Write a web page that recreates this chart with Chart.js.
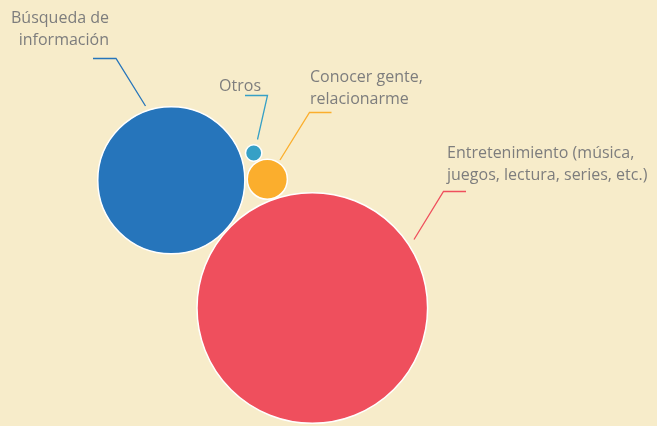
<!DOCTYPE html>
<html>
<head>
<meta charset="utf-8">
<script src="https://cdn.jsdelivr.net/npm/chart.js@4.4.0/dist/chart.umd.min.js"></script>
<style>
  html, body { margin: 0; padding: 0; background: #f7ecca; }
  #wrap { width: 657px; height: 426px; position: relative; }
</style>
</head>
<body>
<div id="wrap"><canvas id="chart"></canvas></div>
<script>
// share of answers (%), bubble area is proportional to it
const categories = ['Búsqueda de información', 'Otros', 'Conocer gente, relacionarme', 'Entretenimiento (música, juegos, lectura, series, etc.)'];
const values = [28.2, 0.35, 2.1, 69.3];
const colors = ['#2675bb', '#36a0c6', '#fbae2d', '#ef4f5d'];
// packed layout of the bubbles (hidden axes, 0..657 x 0..426)
const posX = [171.3, 253.7, 267.3, 312.3];
const posY = [180.3, 153, 179.2, 308];

const radiusScale = 13.85;

// callout text + leader lines
const callouts = [
  { lines: ['Búsqueda de', 'información'], align: 'right', x: 109, y: 23, color: '#2675bb', path: [[93, 58.5], [116, 58.5], [145.5, 106]] },
  { lines: ['Otros'], align: 'right', x: 261, y: 91, color: '#36a0c6', path: [[245, 95.5], [267.5, 95.5], [257.5, 139.5]] },
  { lines: ['Conocer gente,', 'relacionarme'], align: 'left', x: 310, y: 82, color: '#fbae2d', path: [[331.5, 112.5], [309.5, 112.5], [280, 160]] },
  { lines: ['Entretenimiento (música,', 'juegos, lectura, series, etc.)'], align: 'left', x: 447, y: 158, color: '#ef4f5d', path: [[466, 191.5], [443.5, 191.5], [414, 239.5]] }
];

const calloutPlugin = {
  id: 'callouts',
  afterDatasetsDraw(chart) {
    const ctx = chart.ctx;
    ctx.save();
    callouts.forEach(c => {
      ctx.beginPath();
      c.path.forEach((p, i) => i ? ctx.lineTo(p[0], p[1]) : ctx.moveTo(p[0], p[1]));
      ctx.strokeStyle = c.color;
      ctx.lineWidth = 1.3;
      ctx.stroke();
      ctx.fillStyle = '#7d7d7d';
      ctx.font = '16px "Open Sans"';
      ctx.textAlign = c.align;
      ctx.textBaseline = 'alphabetic';
      c.lines.forEach((t, i) => ctx.fillText(t, c.x, c.y + i * 22));
    });
    ctx.restore();
  }
};

new Chart(document.getElementById('chart'), {
  type: 'bubble',
  data: {
    labels: categories,
    datasets: [{
      data: values.map((v, i) => ({ x: posX[i], y: posY[i], r: radiusScale * Math.sqrt(v) })),
      backgroundColor: colors,
      borderColor: '#ffffff',
      borderWidth: 1.5,
      hoverBorderWidth: 1.5
    }]
  },
  options: {
    responsive: true,
    maintainAspectRatio: false,
    animation: false,
    layout: { padding: 0, autoPadding: false },
    clip: false,
    plugins: { legend: { display: false }, tooltip: { enabled: false } },
    scales: {
      x: { type: 'linear', min: 0, max: 657, display: false },
      y: { type: 'linear', min: 0, max: 426, reverse: true, display: false }
    }
  },
  plugins: [calloutPlugin]
});
</script>
</body>
</html>
